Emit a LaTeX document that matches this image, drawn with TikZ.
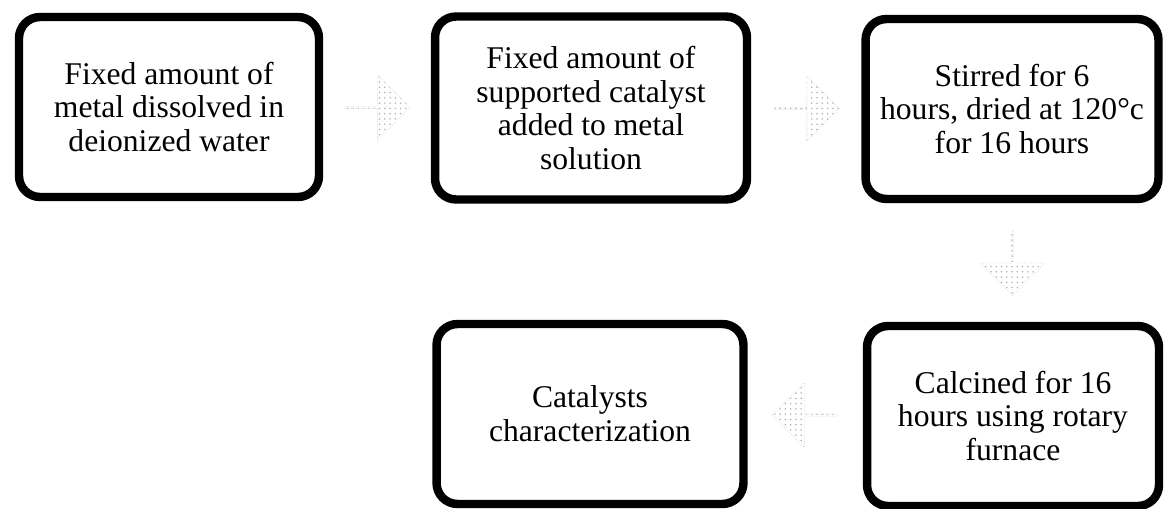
\documentclass[tikz,border=0pt]{standalone}
\usepackage{fontspec}
\setmainfont{Liberation Serif}
\usepackage{tikz}
\usetikzlibrary{shapes.arrows, patterns}

\begin{document}
\begin{tikzpicture}[
  x=0.02cm, y=-0.02cm,
  box/.style={rectangle, draw, line width=4.8pt, rounded corners=0.42cm, minimum height=3.6cm, align=center, font=\fontsize{18}{19.2}\selectfont},
  flow/.style={single arrow, draw=gray!35, densely dotted, pattern=dots, pattern color=gray!60, minimum height=1.3cm, minimum width=1.3cm, single arrow head extend=0.2cm, inner sep=0pt, sloped, allow upside down}
]
  \useasboundingbox (0,0) rectangle (1165,509);

  \node[box, minimum width=6cm] (dissolve) at (169,107) {Fixed amount of\\metal dissolved in\\deionized water};
  \node[box, minimum width=6.24cm, minimum height=3.66cm] (add) at (591,108) {Fixed amount of\\supported catalyst\\added to metal\\solution};
  \node[box, minimum width=5.86cm] (stir) at (1012,109) {Stirred for 6\\hours, dried at 120°c\\for 16 hours};
  \node[box, minimum width=6.14cm] (charac) at (590,414) {Catalysts\\characterization};
  \node[box, minimum width=5.84cm] (calcine) at (1013,416) {Calcined for 16\\hours using rotary\\furnace};

  \path (dissolve) -- node[flow] (a1) {} (add);
  \path (add) -- node[flow] (a2) {} (stir);
  \path (stir) -- node[flow] (a3) {} (calcine);
  \path (calcine) -- node[flow] (a4) {} (charac);
\end{tikzpicture}
\end{document}
